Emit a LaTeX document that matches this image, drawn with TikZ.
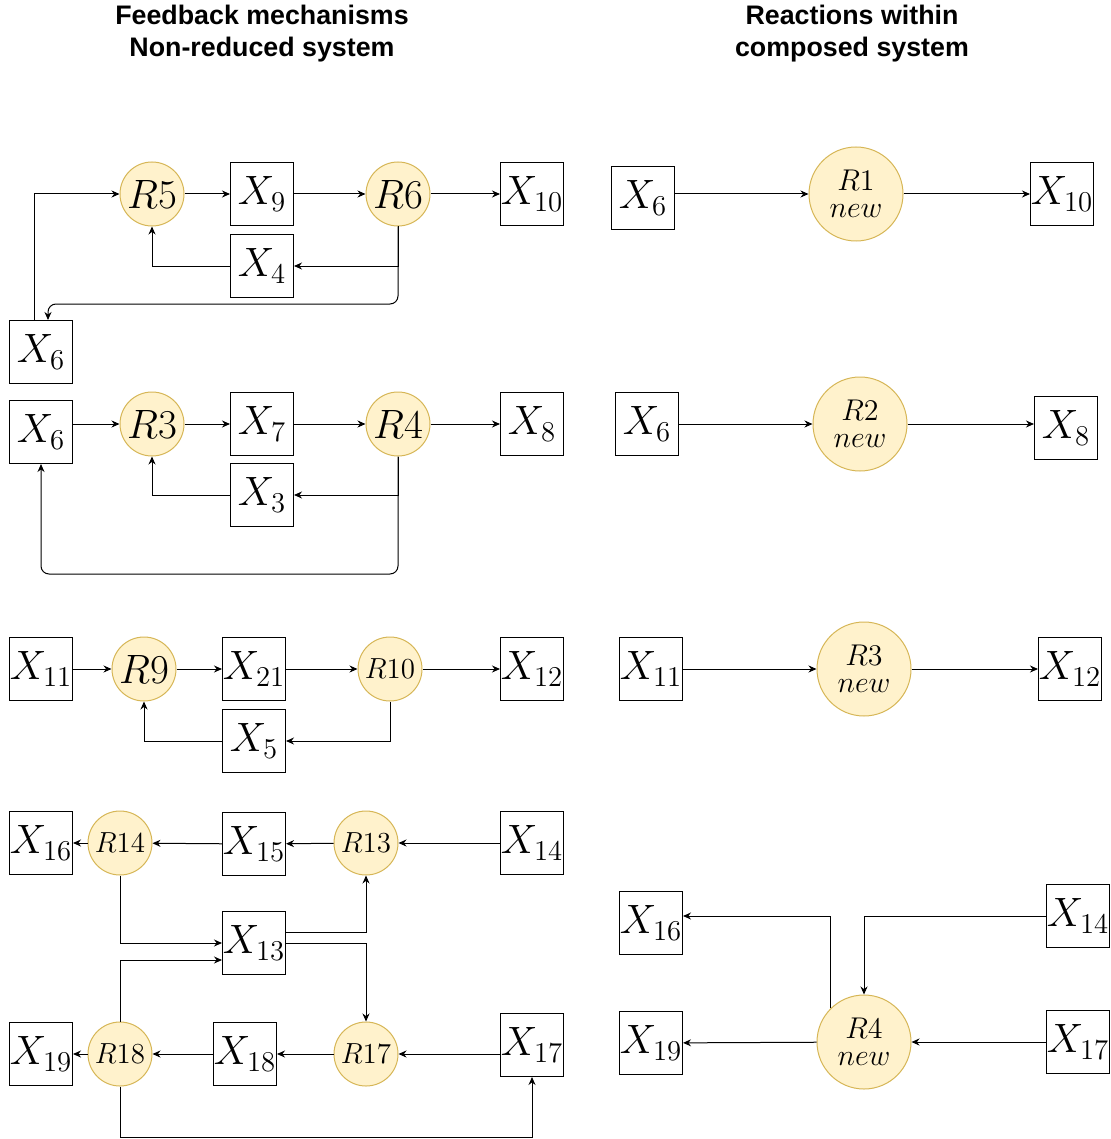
\RequirePackage{fix-cm}
\documentclass[tikz,border=0pt]{standalone}
\usepackage{fontspec}
\newfontfamily\headfont{Liberation Sans}
\usetikzlibrary{arrows.meta, positioning, calc}
\definecolor{RxFill}{HTML}{FFF2CC}
\definecolor{RxBorder}{HTML}{D6B656}

\begin{document}
\begin{tikzpicture}[x=0.5pt, y=-0.5pt,
    species/.style={draw, line width=0.5pt, minimum size=31.5pt, inner sep=0pt, font=\fontsize{20.5}{22}\selectfont},
    reac/.style={circle, draw=RxBorder, fill=RxFill, line width=0.5pt, minimum size=32pt, inner sep=0pt, font=\fontsize{20.5}{22}\selectfont},
    reacsmall/.style={reac, font=\fontsize{14.5}{16}\selectfont},
    reacnew/.style={reac, minimum size=47pt, align=center, font=\fontsize{15}{13.5}\selectfont},
    flow/.style={-{Stealth[length=4pt, width=3.5pt]}, line width=0.5pt},
    headline/.style={font=\headfont\fontsize{13.4}{16}\selectfont\bfseries, align=center}]
  \useasboundingbox (0,0) rectangle (1110,1139);

  \node[headline] (T1) at (262,34) {Feedback mechanisms\\Non-reduced system};
  \node[headline] (T2) at (852,34) {Reactions within\\composed system};

  \node[reac] (R5) at (152,194) {$R5$};
  \node[species] (X9) at (262,194) {$X_{9}$};
  \node[reac] (R6) at (398,194) {$R6$};
  \node[species] (X10a) at (532,194) {$X_{10}$};
  \node[species] (X4) at (262,266) {$X_{4}$};
  \node[species] (X6a) at (41,352) {$X_{6}$};
  \coordinate (fb1) at (48,304);
  \draw[flow] ([xshift=-3.5pt]X6a.north) |- (R5.west);
  \draw[flow] (R5) -- (X9);
  \draw[flow] (X9) -- (R6);
  \draw[flow] (R6) -- (X10a);
  \draw[flow] (R6.south) |- (X4.east);
  \draw[flow] (X4.west) -| (R5.south);
  \draw[flow, rounded corners=4pt] (R6.south) |- (fb1) -- (fb1 |- X6a.north);

  \node[species] (X6b) at (41,432) {$X_{6}$};
  \node[reac] (R3) at (152,424) {$R3$};
  \node[species] (X7) at (262,424) {$X_{7}$};
  \node[reac] (R4) at (398,424) {$R4$};
  \node[species] (X8a) at (532,424) {$X_{8}$};
  \node[species] (X3) at (262,495) {$X_{3}$};
  \coordinate (fb2) at (398,574);
  \draw[flow] (X6b.east |- R3) -- (R3);
  \draw[flow] (R3) -- (X7);
  \draw[flow] (X7) -- (R4);
  \draw[flow] (R4) -- (X8a);
  \draw[flow] (R4.south) |- (X3.east);
  \draw[flow] (X3.west) -| (R3.south);
  \draw[flow, rounded corners=4pt] (R4.south) -- (fb2) -| (X6b.south);

  \node[species] (X11a) at (41,669) {$X_{11}$};
  \node[reac] (R9) at (144,669) {$R9$};
  \node[species] (X21) at (254,669) {$X_{21}$};
  \node[reacsmall] (R10) at (390,669) {$R10$};
  \node[species] (X12a) at (532,669) {$X_{12}$};
  \node[species] (X5) at (254,741) {$X_{5}$};
  \draw[flow] (X11a) -- (R9);
  \draw[flow] (R9) -- (X21);
  \draw[flow] (X21) -- (R10);
  \draw[flow] (R10) -- (X12a);
  \draw[flow] (R10.south) |- (X5.east);
  \draw[flow] (X5.west) -| (R9.south);

  \node[species] (X16a) at (41,843) {$X_{16}$};
  \node[reacsmall] (R14) at (120,843) {$R14$};
  \node[species] (X15) at (254,844) {$X_{15}$};
  \node[reacsmall] (R13) at (366,843) {$R13$};
  \node[species] (X14a) at (532,843) {$X_{14}$};
  \node[species] (X13) at (254,943) {$X_{13}$};
  \node[species] (X19a) at (41,1054) {$X_{19}$};
  \node[reacsmall] (R18) at (120,1054) {$R18$};
  \node[species] (X18) at (245,1054) {$X_{18}$};
  \node[reacsmall] (R17) at (366,1054) {$R17$};
  \node[species] (X17a) at (532,1045) {$X_{17}$};
  \coordinate (fb3) at (120,1137);
  \draw[flow] (X14a) -- (R13);
  \draw[flow] (R13) -- (X15);
  \draw[flow] (X15) -- (R14);
  \draw[flow] (R14) -- (X16a);
  \draw[flow] (R14.south) |- (X13.west);
  \draw[flow] (R18.north) |- ([yshift=-8.5pt]X13.west);
  \draw[flow] ([yshift=5.5pt]X13.east) -| (R13.south);
  \draw[flow] (X13.east) -| (R17.north);
  \draw[flow] (X17a.west |- R17) -- (R17);
  \draw[flow] (R17) -- (X18);
  \draw[flow] (X18) -- (R18);
  \draw[flow] (R18) -- (X19a);
  \draw[flow] (R18.south) -- (fb3) -| (X17a.south);

  \node[species] (X6c) at (643,198) {$X_{6}$};
  \node[reacnew] (N1) at (856,194) {$R1$\\$new$};
  \node[species] (X10b) at (1062,194) {$X_{10}$};
  \draw[flow] (X6c.east |- N1) -- (N1);
  \draw[flow] (N1) -- (X10b);

  \node[species] (X6d) at (647,424) {$X_{6}$};
  \node[reacnew] (N2) at (860,424) {$R2$\\$new$};
  \node[species] (X8b) at (1066,428) {$X_{8}$};
  \draw[flow] (X6d) -- (N2);
  \draw[flow] (N2) -- (N2 -| X8b.west);

  \node[species] (X11b) at (651,669) {$X_{11}$};
  \node[reacnew] (N3) at (864,669) {$R3$\\$new$};
  \node[species] (X12b) at (1070,669) {$X_{12}$};
  \draw[flow] (X11b) -- (N3);
  \draw[flow] (N3) -- (X12b);

  \node[species] (X16b) at (651,923) {$X_{16}$};
  \node[species] (X19b) at (651,1043) {$X_{19}$};
  \node[reacnew] (N4) at (864,1042) {$R4$\\$new$};
  \node[species] (X14b) at (1078,916) {$X_{14}$};
  \node[species] (X17b) at (1078,1042) {$X_{17}$};
  \draw[flow] (X14b.west) -| (N4.north);
  \draw[flow] (N4.north west) |- (X16b.east |- X14b.west);
  \draw[flow] (X17b) -- (N4);
  \draw[flow] (N4) -- (X19b);
\end{tikzpicture}
\end{document}
